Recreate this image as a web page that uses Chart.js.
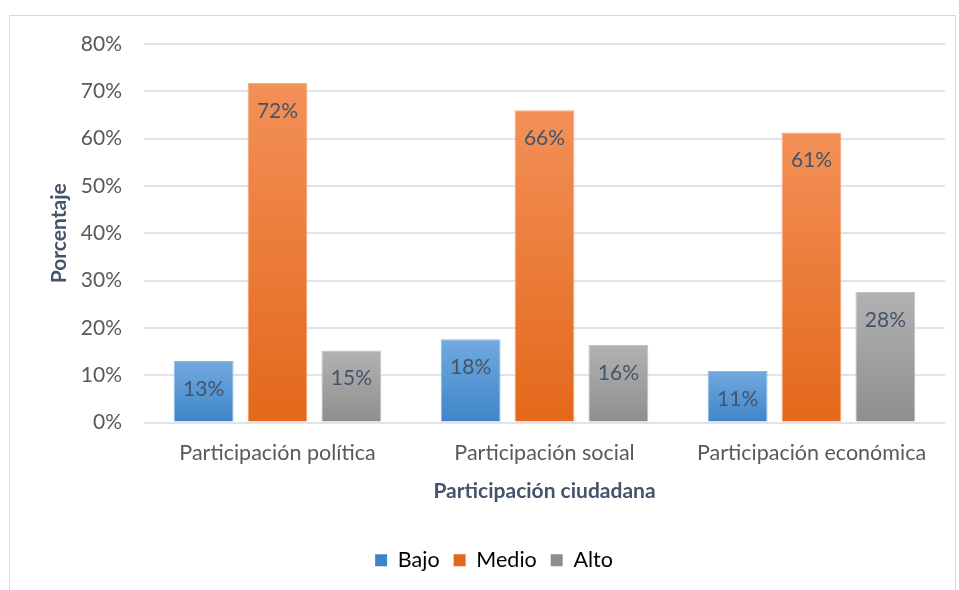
<!DOCTYPE html>
<html>
<head>
<meta charset="utf-8">
<script src="https://cdn.jsdelivr.net/npm/chart.js@4.4.0/dist/chart.umd.min.js"></script>
<style>
  html, body { margin: 0; padding: 0; background: #fff; }
  #wrap { position: absolute; left: 0; top: 0; width: 959px; height: 590px; }
</style>
</head>
<body>
<div id="wrap"><canvas id="grafico"></canvas></div>
<script>
const categorias = ['Participación política', 'Participación social', 'Participación económica'];
const bajo = [13, 17.6, 10.9];
const medio = [71.8, 66, 61.3];
const alto = [15.2, 16.4, 27.6];
const series = ['Bajo', 'Medio', 'Alto'];
const ticksY = ['0%', '10%', '20%', '30%', '40%', '50%', '60%', '70%', '80%'];

const fuente = 'Lato, "Open Sans", sans-serif';

// colores degradados (arriba, abajo)
const colores = [
    ['#72a9df', '#3e85c8'],
    ['#f39058', '#e3681a'],
    ['#b2b2b2', '#8e8e8e']
];
const bordes = ['#8ab8e6', '#f5a878', '#c2c2c2'];

function degradado(idx) {
    return function(context) {
        const chart = context.chart;
        const area = chart.chartArea;
        if (!area || context.parsed === undefined) return colores[idx][1];
        const y = chart.scales.y;
        const top = y.getPixelForValue(context.parsed.y);
        const base = y.getPixelForValue(0);
        const g = chart.ctx.createLinearGradient(0, top, 0, base);
        g.addColorStop(0, colores[idx][0]);
        g.addColorStop(1, colores[idx][1]);
        return g;
    };
}

const marco = {
    id: 'marco',
    beforeDraw(chart) {
        const ctx = chart.ctx;
        ctx.save();
        ctx.strokeStyle = '#d9d9d9';
        ctx.lineWidth = 1;
        ctx.strokeRect(9.5, 15.5, 946, 590);
        ctx.restore();
    }
};

const etiquetas = {
    id: 'etiquetas',
    afterDatasetsDraw(chart) {
        const ctx = chart.ctx;
        ctx.save();
        ctx.font = '21px ' + fuente;
        ctx.fillStyle = '#44546a';
        ctx.textAlign = 'center';
        ctx.textBaseline = 'middle';
        chart.data.datasets.forEach((ds, i) => {
            chart.getDatasetMeta(i).data.forEach((bar, j) => {
                ctx.fillText(Math.round(ds.data[j]) + '%', bar.x, bar.y + 28);
            });
        });
        ctx.restore();
    }
};

const datos = [bajo, medio, alto];
new Chart(document.getElementById('grafico'), {
    type: 'bar',
    data: {
        labels: categorias,
        datasets: series.map((s, i) => ({
            label: s,
            data: datos[i],
            backgroundColor: degradado(i),
            borderColor: bordes[i],
            borderWidth: 1,
            categoryPercentage: 0.83,
            barPercentage: 0.81
        }))
    },
    options: {
        responsive: true,
        maintainAspectRatio: false,
        animation: false,
        layout: { padding: { left: 43, right: 14, top: 44, bottom: 9 } },
        plugins: {
            legend: {
                position: 'bottom',
                labels: {
                    boxWidth: 12,
                    boxHeight: 12,
                    padding: 14,
                    color: '#595959',
                    font: { size: 21.5, family: fuente },
                    generateLabels(chart) {
                        return series.map((s, i) => ({
                            text: s,
                            fillStyle: colores[i][1],
                            strokeStyle: colores[i][1],
                            lineWidth: 0,
                            datasetIndex: i
                        }));
                    }
                }
            },
            tooltip: { enabled: false }
        },
        scales: {
            x: {
                grid: { display: false },
                border: { display: false },
                ticks: {
                    color: '#595959',
                    padding: 10,
                    font: { size: 21.5, family: fuente }
                },
                title: {
                    display: true,
                    text: 'Participación ciudadana',
                    color: '#44546a',
                    padding: { top: 2, bottom: 32 },
                    font: { size: 21, weight: 'bold', family: fuente }
                }
            },
            y: {
                min: 0,
                max: 80,
                afterFit(scale) { scale.width = 101; },
                grid: { color: '#dfe3ea', lineWidth: 2, drawTicks: false },
                border: { display: false },
                ticks: {
                    stepSize: 10,
                    padding: 22,
                    color: '#595959',
                    font: { size: 21, family: fuente },
                    callback: (v, i) => ticksY[i]
                },
                title: {
                    display: true,
                    text: 'Porcentaje',
                    color: '#44546a',
                    padding: { bottom: 4 },
                    font: { size: 21, weight: 'bold', family: fuente }
                }
            }
        }
    },
    plugins: [marco, etiquetas]
});
</script>
</body>
</html>
